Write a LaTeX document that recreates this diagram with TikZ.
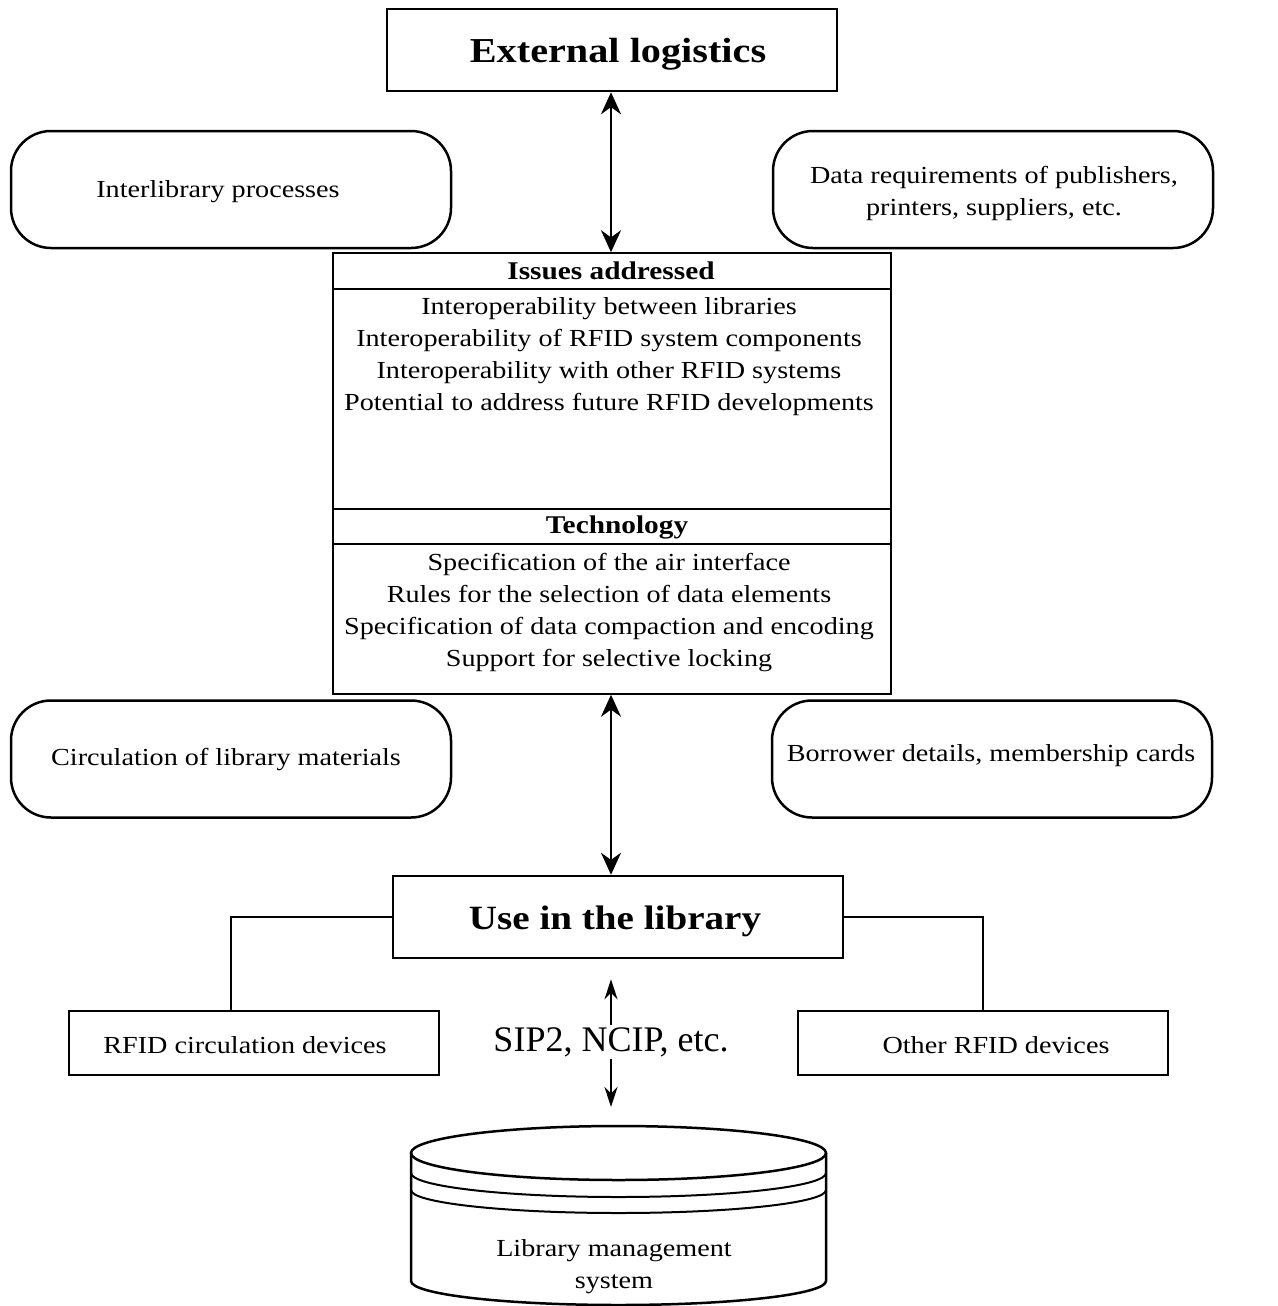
\documentclass[tikz,border=0pt]{standalone}
\usepackage{fontspec}
\setmainfont[FakeStretch=1.15]{Liberation Serif}
\newfontfamily\plainfont{Liberation Serif}
\usetikzlibrary{arrows.meta}
\tikzset{
    x=1pt,y=1pt,
    txt/.style={font=\fontsize{24.5}{32}\selectfont,align=center},
    roundbox/.style={draw,line width=2.5pt,rounded corners=40pt,minimum width=440pt,minimum height=117pt},
    titlebox/.style={draw,line width=2.5pt,minimum width=450pt,minimum height=82pt},
    devbox/.style={draw,line width=2pt,minimum width=370pt,minimum height=64pt},
    twoway/.style={{Stealth[length=22pt,width=20pt]}-{Stealth[length=22pt,width=20pt]},line width=2.5pt},
    thinway/.style={{Stealth[length=20pt,width=13pt]}-{Stealth[length=20pt,width=13pt]},line width=2pt}
}
\begin{document}
\begin{tikzpicture}
                \useasboundingbox (0,0) rectangle (1277,-1306);
                % top
                \node[titlebox] (extlog) at (612,-50) {};
                \node[font=\fontsize{35}{40}\selectfont\bfseries] (extlogtxt) at (618,-54) {External logistics};
                \node[roundbox] (inter) at (231,-189.5) {};
                \node[txt] (intertxt) at (218,-192) {Interlibrary processes};
                \node[roundbox] (pubs) at (993,-189.5) {};
                \node[txt] (pubstxt) at (994,-193) {Data requirements of publishers,\\printers, suppliers, etc.};
                % middle table
                \node[draw,line width=1.5pt,minimum width=558pt,minimum height=441pt] (issues) at (612,-473.5) {};
                \draw[line width=1.5pt] (333,-289) -- (891,-289);
                \draw[line width=1.5pt] (333,-509) -- (891,-509);
                \draw[line width=1.5pt] (333,-544) -- (891,-544);
                \node[txt,font=\fontsize{25.5}{32}\selectfont\bfseries] (ihead) at (611,-271) {Issues addressed};
                \node[txt,anchor=north] (ilist) at (609,-294) {Interoperability between libraries\\Interoperability of RFID system components\\Interoperability with other RFID systems\\Potential to address future RFID developments};
                \node[txt,font=\fontsize{25.5}{32}\selectfont\bfseries] (thead) at (617,-527) {Technology};
                \node[txt,anchor=north] (tlist) at (609,-550) {Specification of the air interface\\Rules for the selection of data elements\\Specification of data compaction and encoding\\Support for selective locking};
                \draw[twoway] (extlog.south -| 611,0) -- (issues.north -| 611,0);
                % library side
                \node[roundbox] (circ) at (231,-759) {};
                \node[txt] (circtxt) at (226,-760) {Circulation of library materials};
                \node[roundbox] (borrow) at (992,-759) {};
                \node[txt] (borrowtxt) at (991,-756) {Borrower details, membership cards};
                \node[titlebox] (use) at (618,-917) {};
                \node[font=\fontsize{34}{40}\selectfont\bfseries] (usetxt) at (615,-921) {Use in the library};
                \draw[twoway] (issues.south -| 611,0) -- (use.north -| 611,0);
                \node[devbox] (rfid) at (254,-1043) {};
                \node[txt] (rfidtxt) at (245,-1045) {RFID circulation devices};
                \node[devbox] (other) at (983,-1043) {};
                \node[txt] (othertxt) at (996,-1045) {Other RFID devices};
                \coordinate (ljoin) at (231,-1011);
                \coordinate (rjoin) at (983,-1011);
                \draw[line width=2pt] (use.west) -| (ljoin);
                \draw[line width=2pt] (use.east) -| (rjoin);
                % database
                \draw[line width=2.5pt] (618.5,-1153) ellipse [x radius=207.5,y radius=27];
                \draw[line width=2pt] (411,-1173) arc[start angle=180,end angle=360,x radius=207.5,y radius=24];
                \draw[line width=2pt] (411,-1190) arc[start angle=180,end angle=360,x radius=207.5,y radius=23];
                \draw[line width=2.5pt] (411,-1153) -- (411,-1281) arc[start angle=180,end angle=360,x radius=207.5,y radius=24] -- (826,-1153);
                \node[txt] (lms) at (614,-1267) {Library management\\system};
                \coordinate (lmstop) at (611,-1127);
                \draw[thinway,shorten <=20pt,shorten >=20pt] (use.south -| 611,0) -- (lmstop);
                \node[fill=white,inner sep=2pt,font=\fontsize{36}{40}\plainfont] (sip) at (611,-1042) {SIP2, NCIP, etc.};
            \end{tikzpicture}
\end{document}
